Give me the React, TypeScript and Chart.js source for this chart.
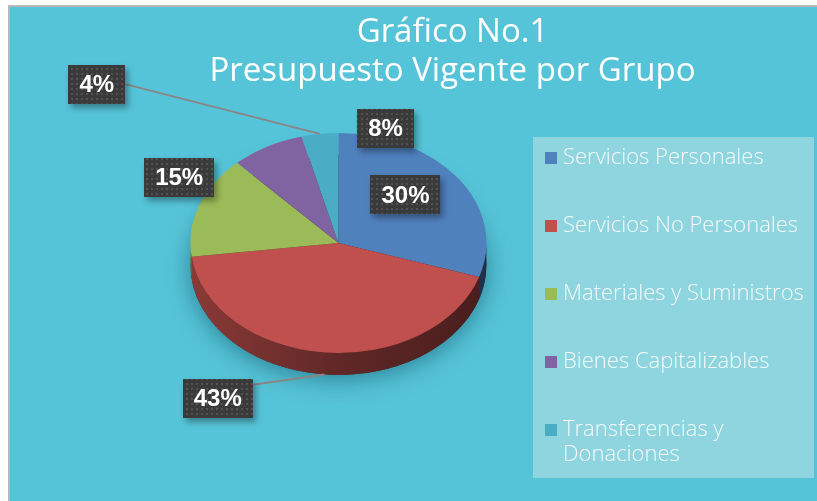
import React, { useEffect, useRef } from "react";
import { Chart, registerables } from "chart.js";

Chart.register(...registerables);

const titleLines = ["Gráfico No.1", "Presupuesto Vigente por Grupo"];
const categories = [
  ["Servicios Personales"],
  ["Servicios No Personales"],
  ["Materiales y Suministros"],
  ["Bienes Capitalizables"],
  ["Transferencias y", "Donaciones"],
];
const shares = [30, 43, 15, 8, 4];
const sliceColors = ["#4f81bd", "#c0504d", "#9bbb59", "#8064a2", "#4bacc6"];
// where each percentage box sits: angle (deg, clockwise from 12 o'clock) and distance (fraction of radius)
const labelAngles = [46, 210, 299, 17, 311.5];
const labelRadii = [0.63, 1.63, 1.23, 1.09, 2.18];

const W = 807;
const H = 494;
const TILT = 0.743;
const DEPTH = 22;
const CENTER_X = 328.4;
const CENTER_Y = 236;
const RADIUS = 148;

function shade(hex: string, f: number) {
  const n = parseInt(hex.slice(1), 16);
  const r = Math.round(((n >> 16) & 255) * f);
  const g = Math.round(((n >> 8) & 255) * f);
  const b = Math.round((n & 255) * f);
  return `rgb(${r},${g},${b})`;
}

function makePattern(ctx: CanvasRenderingContext2D) {
  const c = document.createElement("canvas");
  c.width = 5;
  c.height = 5;
  const p = c.getContext("2d")!;
  p.fillStyle = "#3a3a3a";
  p.fillRect(0, 0, 5, 5);
  p.fillStyle = "#525252";
  p.fillRect(1, 1, 2, 2);
  return ctx.createPattern(c, "repeat")!;
}

const pie3d = {
  id: "pie3d",
  beforeDatasetsDraw(chart: any) {
    const ctx: CanvasRenderingContext2D = chart.ctx;
    const arcs = chart.getDatasetMeta(0).data as any[];
    const cx = arcs[0].x;
    const cy = arcs[0].y;
    const R = arcs[0].outerRadius;
    const D = DEPTH / TILT;
    ctx.save();
    ctx.translate(CENTER_X, CENTER_Y);
    ctx.scale(1, TILT);
    ctx.translate(-cx, -cy);
    // soft shadow
    ctx.save();
    ctx.shadowColor = "rgba(0,60,80,0.5)";
    ctx.shadowBlur = 24;
    ctx.shadowOffsetY = 4;
    ctx.beginPath();
    ctx.arc(cx, cy + D, R, 0, Math.PI * 2);
    ctx.fillStyle = "#4a1e1d";
    ctx.fill();
    ctx.restore();
    // sides
    arcs.forEach((arc: any, i: number) => {
      const a = Math.max(arc.startAngle, 0);
      const b = Math.min(arc.endAngle, Math.PI);
      if (b <= a) return;
      const g = ctx.createLinearGradient(cx - R, 0, cx + R, 0);
      g.addColorStop(0, shade(sliceColors[i], 0.72));
      g.addColorStop(0.5, shade(sliceColors[i], 0.5));
      g.addColorStop(1, shade(sliceColors[i], 0.38));
      ctx.beginPath();
      ctx.arc(cx, cy, R, a, b);
      ctx.arc(cx, cy + D, R, b, a, true);
      ctx.closePath();
      ctx.fillStyle = g;
      ctx.fill();
    });
  },
  afterDatasetsDraw(chart: any) {
    const ctx: CanvasRenderingContext2D = chart.ctx;
    ctx.restore();
    const arcs = chart.getDatasetMeta(0).data as any[];
    const R = arcs[0].outerRadius;
    const pattern = makePattern(ctx);
    ctx.save();
    ctx.font = "bold 24px 'Liberation Sans', Arial, sans-serif";
    ctx.textAlign = "center";
    ctx.textBaseline = "middle";
    arcs.forEach((arc: any, i: number) => {
      const t = ((labelAngles[i] - 90) * Math.PI) / 180;
      const rf = labelRadii[i];
      const bx = CENTER_X + R * rf * Math.cos(t);
      const by = CENTER_Y + TILT * R * rf * Math.sin(t);
      const text = `${shares[i]}%`;
      const w = ctx.measureText(text).width + 22;
      const h = 39;
      if (rf > 1.3) {
        const m = (arc.startAngle + arc.endAngle) / 2;
        const tx = CENTER_X + R * Math.cos(m);
        const ty = CENTER_Y + TILT * R * Math.sin(m) + (Math.sin(m) > 0 ? DEPTH : 0);
        const sy = Math.min(Math.max(ty, by - h / 2 + 6), by);
        ctx.beginPath();
        ctx.moveTo(bx + w / 2, sy);
        ctx.lineTo(tx, ty);
        ctx.strokeStyle = "#8a8585";
        ctx.lineWidth = 2;
        ctx.stroke();
      }
      ctx.save();
      ctx.shadowColor = "rgba(0,0,0,0.35)";
      ctx.shadowBlur = 6;
      ctx.shadowOffsetX = 3;
      ctx.shadowOffsetY = 4;
      ctx.fillStyle = pattern;
      ctx.fillRect(Math.round(bx - w / 2), Math.round(by - h / 2), Math.round(w), h);
      ctx.restore();
      ctx.fillStyle = "#ffffff";
      ctx.fillText(text, bx, by + 1);
    });
    ctx.restore();
  },
  afterDraw(chart: any) {
    const ctx: CanvasRenderingContext2D = chart.ctx;
    ctx.save();
    ctx.fillStyle = "#8fd5e0";
    ctx.fillRect(523, 130, 281, 341);
    ctx.font = "300 22px 'Open Sans', sans-serif";
    ctx.textBaseline = "middle";
    ctx.textAlign = "left";
    const labels = chart.data.labels as string[][];
    labels.forEach((lines, i) => {
      const y = 151 + i * 68;
      ctx.fillStyle = sliceColors[i];
      ctx.fillRect(535, y - 6, 12, 12);
      ctx.fillStyle = "#f4fbfc";
      lines.forEach((ln, j) => ctx.fillText(ln, 553, y + j * 25));
    });
    ctx.restore();
  },
};

export default function App() {
  const ref = useRef<HTMLCanvasElement>(null);
  useEffect(() => {
    if (!ref.current) return;
    const chart = new Chart(ref.current, {
      type: "pie",
      data: {
        labels: categories as any,
        datasets: [
          {
            data: shares,
            backgroundColor: sliceColors,
            borderWidth: 0,
            radius: RADIUS,
            clip: false as any,
          },
        ],
      },
      options: {
        responsive: false,
        animation: false,
        layout: { padding: { left: 78, right: 0, top: 0, bottom: 0 } },
        plugins: {
          legend: { display: false },
          tooltip: { enabled: false },
          title: {
            display: true,
            text: titleLines,
            color: "#ffffff",
            font: { family: "'Open Sans', sans-serif", size: 33, weight: "normal", lineHeight: 1.18 },
            padding: { top: 6, bottom: 0 },
          },
        },
      },
      plugins: [pie3d],
    });
    return () => chart.destroy();
  }, []);
  return (
    <div
      style={{
        position: "absolute",
        left: 8,
        top: 5,
        width: W + 2,
        height: H + 2,
        boxSizing: "border-box",
        borderLeft: "2px solid #b8b8b8",
        borderTop: "2px solid #b8b8b8",
        background: "#56c4d8",
        overflow: "hidden",
      }}
    >
      <canvas ref={ref} width={W} height={H} style={{ display: "block" }} />
    </div>
  );
}
